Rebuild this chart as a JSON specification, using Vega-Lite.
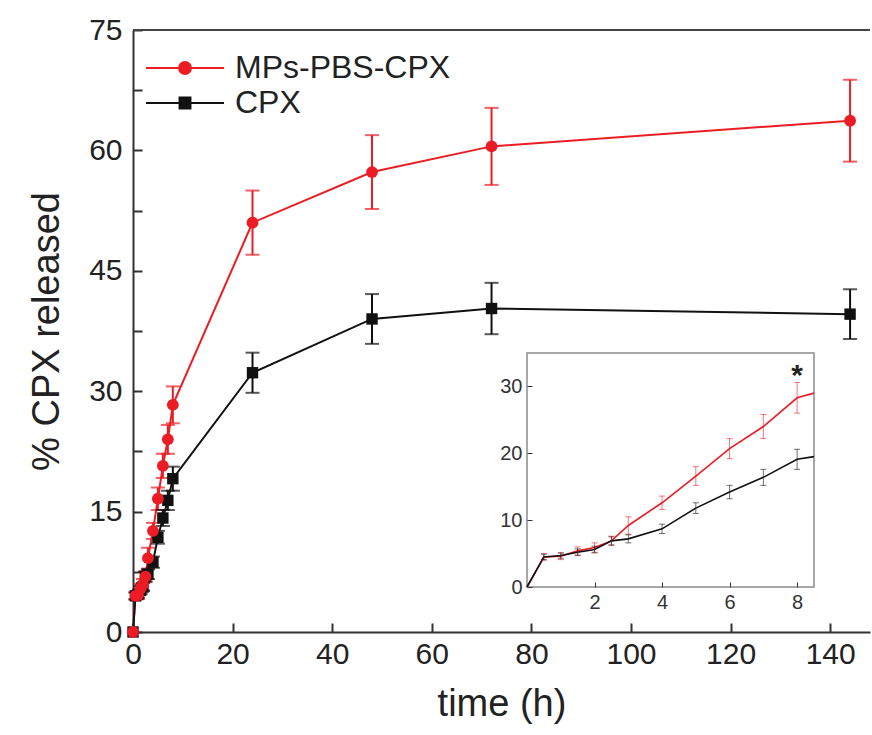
{
  "$schema": "https://vega.github.io/schema/vega-lite/v6.json",
  "autosize": "none",
  "width": 737,
  "height": 602,
  "padding": {"left": 133, "top": 30, "right": 2, "bottom": 103},
  "background": "white",
  "config": {
    "font": "Liberation Sans",
    "view": {"stroke": null},
    "axis": {"grid": false, "labelFont": "Liberation Sans", "titleFont": "Liberation Sans", "labelColor": "#222", "titleColor": "#222", "titleFontWeight": "normal", "domainColor": "#333", "tickColor": "#333"}
  },
  "datasets": {
    "main": [
      {"s": "MPs-PBS-CPX", "t": 0, "v": 0},
      {"s": "MPs-PBS-CPX", "t": 0.5, "v": 4.5, "lo": 4.0, "hi": 5.0},
      {"s": "MPs-PBS-CPX", "t": 1, "v": 4.6, "lo": 4.1, "hi": 5.1},
      {"s": "MPs-PBS-CPX", "t": 1.5, "v": 5.4, "lo": 4.8, "hi": 6.0},
      {"s": "MPs-PBS-CPX", "t": 2, "v": 5.9, "lo": 5.2, "hi": 6.6},
      {"s": "MPs-PBS-CPX", "t": 2.5, "v": 6.9, "lo": 6.2, "hi": 7.6},
      {"s": "MPs-PBS-CPX", "t": 3, "v": 9.2, "lo": 7.9, "hi": 10.5},
      {"s": "MPs-PBS-CPX", "t": 4, "v": 12.6, "lo": 11.6, "hi": 13.6},
      {"s": "MPs-PBS-CPX", "t": 5, "v": 16.6, "lo": 15.2, "hi": 18.0},
      {"s": "MPs-PBS-CPX", "t": 6, "v": 20.7, "lo": 19.2, "hi": 22.2},
      {"s": "MPs-PBS-CPX", "t": 7, "v": 24.0, "lo": 22.2, "hi": 25.8},
      {"s": "MPs-PBS-CPX", "t": 8, "v": 28.3, "lo": 26.0, "hi": 30.6},
      {"s": "MPs-PBS-CPX", "t": 24, "v": 51.0, "lo": 47.0, "hi": 55.0},
      {"s": "MPs-PBS-CPX", "t": 48, "v": 57.3, "lo": 52.7, "hi": 61.9},
      {"s": "MPs-PBS-CPX", "t": 72, "v": 60.5, "lo": 55.7, "hi": 65.3},
      {"s": "MPs-PBS-CPX", "t": 144, "v": 63.7, "lo": 58.6, "hi": 68.8},
      {"s": "CPX", "t": 0, "v": 0},
      {"s": "CPX", "t": 0.5, "v": 4.5, "lo": 4.1, "hi": 4.9},
      {"s": "CPX", "t": 1, "v": 4.7, "lo": 4.3, "hi": 5.1},
      {"s": "CPX", "t": 1.5, "v": 5.2, "lo": 4.7, "hi": 5.7},
      {"s": "CPX", "t": 2, "v": 5.6, "lo": 5.1, "hi": 6.1},
      {"s": "CPX", "t": 2.5, "v": 6.9, "lo": 6.3, "hi": 7.5},
      {"s": "CPX", "t": 3, "v": 7.2, "lo": 6.6, "hi": 7.8},
      {"s": "CPX", "t": 4, "v": 8.7, "lo": 8.0, "hi": 9.4},
      {"s": "CPX", "t": 5, "v": 11.8, "lo": 11.0, "hi": 12.6},
      {"s": "CPX", "t": 6, "v": 14.2, "lo": 13.2, "hi": 15.2},
      {"s": "CPX", "t": 7, "v": 16.4, "lo": 15.2, "hi": 17.6},
      {"s": "CPX", "t": 8, "v": 19.1, "lo": 17.6, "hi": 20.6},
      {"s": "CPX", "t": 24, "v": 32.3, "lo": 29.8, "hi": 34.8},
      {"s": "CPX", "t": 48, "v": 39.0, "lo": 35.9, "hi": 42.1},
      {"s": "CPX", "t": 72, "v": 40.3, "lo": 37.1, "hi": 43.5},
      {"s": "CPX", "t": 144, "v": 39.6, "lo": 36.5, "hi": 42.7}
    ],
    "inset": [
      {"s": "MPs-PBS-CPX", "t": 0, "v": 0},
      {"s": "MPs-PBS-CPX", "t": 0.5, "v": 4.5, "lo": 4.0, "hi": 5.0},
      {"s": "MPs-PBS-CPX", "t": 1, "v": 4.6, "lo": 4.1, "hi": 5.1},
      {"s": "MPs-PBS-CPX", "t": 1.5, "v": 5.4, "lo": 4.8, "hi": 6.0},
      {"s": "MPs-PBS-CPX", "t": 2, "v": 5.9, "lo": 5.2, "hi": 6.6},
      {"s": "MPs-PBS-CPX", "t": 2.5, "v": 6.9, "lo": 6.2, "hi": 7.6},
      {"s": "MPs-PBS-CPX", "t": 3, "v": 9.2, "lo": 7.9, "hi": 10.5},
      {"s": "MPs-PBS-CPX", "t": 4, "v": 12.6, "lo": 11.6, "hi": 13.6},
      {"s": "MPs-PBS-CPX", "t": 5, "v": 16.6, "lo": 15.2, "hi": 18.0},
      {"s": "MPs-PBS-CPX", "t": 6, "v": 20.7, "lo": 19.2, "hi": 22.2},
      {"s": "MPs-PBS-CPX", "t": 7, "v": 24.0, "lo": 22.2, "hi": 25.8},
      {"s": "MPs-PBS-CPX", "t": 8, "v": 28.3, "lo": 26.0, "hi": 30.6},
      {"s": "MPs-PBS-CPX", "t": 8.5, "v": 29.0},
      {"s": "CPX", "t": 0, "v": 0},
      {"s": "CPX", "t": 0.5, "v": 4.5, "lo": 4.1, "hi": 4.9},
      {"s": "CPX", "t": 1, "v": 4.7, "lo": 4.3, "hi": 5.1},
      {"s": "CPX", "t": 1.5, "v": 5.2, "lo": 4.7, "hi": 5.7},
      {"s": "CPX", "t": 2, "v": 5.6, "lo": 5.1, "hi": 6.1},
      {"s": "CPX", "t": 2.5, "v": 6.9, "lo": 6.3, "hi": 7.5},
      {"s": "CPX", "t": 3, "v": 7.2, "lo": 6.6, "hi": 7.8},
      {"s": "CPX", "t": 4, "v": 8.7, "lo": 8.0, "hi": 9.4},
      {"s": "CPX", "t": 5, "v": 11.8, "lo": 11.0, "hi": 12.6},
      {"s": "CPX", "t": 6, "v": 14.2, "lo": 13.2, "hi": 15.2},
      {"s": "CPX", "t": 7, "v": 16.4, "lo": 15.2, "hi": 17.6},
      {"s": "CPX", "t": 8, "v": 19.1, "lo": 17.6, "hi": 20.6},
      {"s": "CPX", "t": 8.5, "v": 19.5}
    ]
  },
  "layer": [
    {
      "data": {"name": "main"},
      "layer": [
        {"mark": {"type": "line", "strokeWidth": 2},
          "encoding": {
            "x": {"field": "t", "type": "quantitative", "title": "time (h)",
              "scale": {"domain": [0, 148], "nice": false, "zero": false},
              "axis": {"values": [0, 20, 40, 60, 80, 100, 120, 140], "tickSize": -9, "tickWidth": 2, "domainWidth": 2, "labelFontSize": 30, "labelPadding": 16, "titleFontSize": 38, "titlePadding": 16, "labelFlush": false}},
            "y": {"field": "v", "type": "quantitative", "title": "% CPX released",
              "scale": {"domain": [0, 75], "nice": false},
              "axis": {"values": [0, 7.5, 15, 22.5, 30, 37.5, 45, 52.5, 60, 67.5, 75], "labelExpr": "datum.value % 15 == 0 ? datum.value : ''", "tickSize": -9, "tickWidth": 2, "domainWidth": 2, "labelFontSize": 30, "labelPadding": 20, "titleFontSize": 38, "titlePadding": 22, "labelFlush": false}},
            "color": {"field": "s", "type": "nominal", "title": null,
              "scale": {"domain": ["MPs-PBS-CPX", "CPX"], "range": ["#ec1c24", "#111111"]},
              "legend": {"orient": "none", "legendX": 36, "legendY": 22, "direction": "vertical", "labelFontSize": 32, "labelColor": "#222", "labelLimit": 500, "symbolSize": 676, "symbolStrokeWidth": 2, "labelOffset": 34, "rowPadding": 3,
                "encode": {"symbols": {"update": {
                  "shape": {"signal": "datum.label == 'CPX' ? 'M-3,0H3M-0.42,-0.42H0.42V0.42H-0.42Z' : 'M-3,0H3M0.46,0A0.46,0.46,0,1,1,-0.46,0A0.46,0.46,0,1,1,0.46,0Z'"},
                  "fill": {"scale": "color", "field": "value"},
                  "stroke": {"scale": "color", "field": "value"},
                  "opacity": {"value": 1}}}}}}
          }},
        {"transform": [{"filter": "datum.t == 0 && datum.s == 'CPX'"}],
          "mark": {"type": "rule", "color": "#444", "strokeWidth": 2},
          "encoding": {"y": {"datum": 75, "type": "quantitative"}}},
        {"transform": [{"filter": "isValid(datum.lo)"}],
          "mark": {"type": "rule", "strokeWidth": 2},
          "encoding": {"x": {"field": "t", "type": "quantitative", "title": "time (h)"}, "y": {"field": "lo", "type": "quantitative", "title": "% CPX released"}, "y2": {"field": "hi"}, "color": {"field": "s", "type": "nominal", "title": null}}},
        {"transform": [{"filter": "isValid(datum.lo)"}],
          "mark": {"type": "tick", "orient": "horizontal", "size": 14, "thickness": 2},
          "encoding": {"x": {"field": "t", "type": "quantitative", "title": "time (h)"}, "y": {"field": "lo", "type": "quantitative", "title": "% CPX released"}, "color": {"field": "s", "type": "nominal", "title": null}}},
        {"transform": [{"filter": "isValid(datum.lo)"}],
          "mark": {"type": "tick", "orient": "horizontal", "size": 14, "thickness": 2},
          "encoding": {"x": {"field": "t", "type": "quantitative", "title": "time (h)"}, "y": {"field": "hi", "type": "quantitative", "title": "% CPX released"}, "color": {"field": "s", "type": "nominal", "title": null}}},
        {"transform": [{"filter": "datum.s == 'CPX'"}],
          "mark": {"type": "point", "shape": "square", "filled": true, "size": 130, "color": "#111111", "opacity": 1},
          "encoding": {"x": {"field": "t", "type": "quantitative", "title": "time (h)"}, "y": {"field": "v", "type": "quantitative", "title": "% CPX released"}}},
        {"transform": [{"filter": "datum.s == 'MPs-PBS-CPX'"}],
          "mark": {"type": "point", "shape": "circle", "filled": true, "size": 140, "color": "#ec1c24", "opacity": 1},
          "encoding": {"x": {"field": "t", "type": "quantitative", "title": "time (h)"}, "y": {"field": "v", "type": "quantitative", "title": "% CPX released"}}}
      ]
    },
    {
      "data": {"name": "inset"},
      "layer": [
        {"transform": [{"filter": "datum.t == 0 && datum.s == 'CPX'"}],
          "mark": {"type": "rect", "fill": "white", "stroke": "#8c8c8c", "strokeWidth": 1.5},
          "encoding": {"x": {"datum": 0, "type": "quantitative"}, "x2": {"datum": 8.5}, "y": {"datum": 0, "type": "quantitative"}, "y2": {"datum": 35}}},
        {"mark": {"type": "line", "strokeWidth": 1.6},
          "encoding": {
            "x": {"field": "t", "type": "quantitative", "title": null,
              "scale": {"domain": [0, 8.5], "range": [394, 681], "nice": false, "zero": false},
              "axis": {"orient": "bottom", "offset": -45, "values": [2, 4, 6, 8], "format": "d", "domain": false, "tickSize": -5, "tickWidth": 1, "labelFontSize": 20, "labelColor": "#333", "labelPadding": 10, "zindex": 2, "title": null}},
            "y": {"field": "v", "type": "quantitative", "title": null,
              "scale": {"domain": [0, 35], "range": [557, 323], "nice": false},
              "axis": {"orient": "left", "offset": -394, "values": [0, 10, 20, 30], "format": "d", "domain": false, "tickSize": -5, "tickWidth": 1, "labelFontSize": 20, "labelColor": "#333", "labelPadding": 10, "zindex": 2, "title": null}},
            "color": {"field": "s", "type": "nominal", "title": null}
          }},
        {"transform": [{"filter": "isValid(datum.lo)"}],
          "mark": {"type": "rule", "strokeWidth": 1, "opacity": 0.6},
          "encoding": {"x": {"field": "t", "type": "quantitative", "title": null}, "y": {"field": "lo", "type": "quantitative", "title": null}, "y2": {"field": "hi"}, "color": {"field": "s", "type": "nominal", "title": null}}},
        {"transform": [{"filter": "isValid(datum.lo)"}],
          "mark": {"type": "tick", "orient": "horizontal", "size": 6, "thickness": 1, "opacity": 0.6},
          "encoding": {"x": {"field": "t", "type": "quantitative", "title": null}, "y": {"field": "lo", "type": "quantitative", "title": null}, "color": {"field": "s", "type": "nominal", "title": null}}},
        {"transform": [{"filter": "isValid(datum.lo)"}],
          "mark": {"type": "tick", "orient": "horizontal", "size": 6, "thickness": 1, "opacity": 0.6},
          "encoding": {"x": {"field": "t", "type": "quantitative", "title": null}, "y": {"field": "hi", "type": "quantitative", "title": null}, "color": {"field": "s", "type": "nominal", "title": null}}},
        {"transform": [{"filter": "datum.t == 0 && datum.s == 'CPX'"}],
          "mark": {"type": "text", "text": "*", "fontSize": 30, "fontWeight": "bold", "color": "#222", "baseline": "middle", "align": "center"},
          "encoding": {"x": {"datum": 8, "type": "quantitative"}, "y": {"datum": 31.5, "type": "quantitative"}}}
      ]
    }
  ],
  "resolve": {"scale": {"x": "independent", "y": "independent"}, "axis": {"x": "independent", "y": "independent"}}
}
